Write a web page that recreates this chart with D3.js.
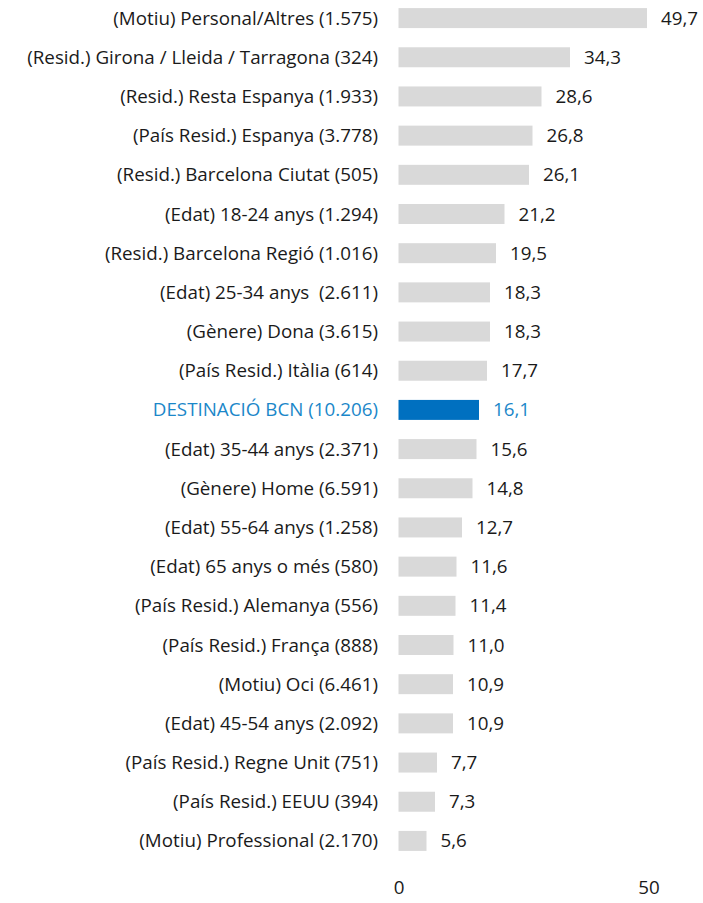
<!DOCTYPE html>
<html>
<head>
<meta charset="utf-8">
<script src="https://cdn.jsdelivr.net/npm/d3@7"></script>
<style>
  body { margin: 0; background: #fff; }
  text { font-family: "Open Sans", Lato, sans-serif; white-space: pre; }
</style>
</head>
<body>
<div id="chart"></div>
<script>
const categories = [
    "(Motiu) Personal/Altres (1.575)",
    "(Resid.) Girona / Lleida / Tarragona (324)",
    "(Resid.) Resta Espanya (1.933)",
    "(País Resid.) Espanya (3.778)",
    "(Resid.) Barcelona Ciutat (505)",
    "(Edat) 18-24 anys (1.294)",
    "(Resid.) Barcelona Regió (1.016)",
    "(Edat) 25-34 anys  (2.611)",
    "(Gènere) Dona (3.615)",
    "(País Resid.) Itàlia (614)",
    "DESTINACIÓ BCN (10.206)",
    "(Edat) 35-44 anys (2.371)",
    "(Gènere) Home (6.591)",
    "(Edat) 55-64 anys (1.258)",
    "(Edat) 65 anys o més (580)",
    "(País Resid.) Alemanya (556)",
    "(País Resid.) França (888)",
    "(Motiu) Oci (6.461)",
    "(Edat) 45-54 anys (2.092)",
    "(País Resid.) Regne Unit (751)",
    "(País Resid.) EEUU (394)",
    "(Motiu) Professional (2.170)"
];
const values = [49.7, 34.3, 28.6, 26.8, 26.1, 21.2, 19.5, 18.3, 18.3, 17.7, 16.1,
    15.6, 14.8, 12.7, 11.6, 11.4, 11.0, 10.9, 10.9, 7.7, 7.3, 5.6];
const highlight = "DESTINACIÓ BCN (10.206)";
const xTicks = [0, 50];

const width = 703;
const height = 903;
const fontSize = 18.8;

const svg = d3.select("#chart")
    .append("svg")
    .attr("width", width)
    .attr("height", height);

const xScale = d3.scaleLinear().domain([0, 50]).range([398.5, 648.5]);
const yScale = d3.scaleBand()
    .domain(categories)
    .range([-1.5, 860.5])
    .paddingInner(0.49)
    .paddingOuter(0.245);

const fmt = v => d3.format(".1f")(v).replace(".", ",");
const rows = categories.map((c, i) => ({ cat: c, value: values[i] }));

// bars
svg.selectAll("rect.bar")
    .data(rows)
    .enter()
    .append("rect")
    .attr("class", "bar")
    .attr("x", xScale(0))
    .attr("y", d => yScale(d.cat))
    .attr("width", d => xScale(d.value) - xScale(0))
    .attr("height", yScale.bandwidth())
    .attr("fill", d => d.cat === highlight ? "#0070C0" : "#D9D9D9");

// category labels
svg.selectAll("text.cat")
    .data(rows)
    .enter()
    .append("text")
    .attr("class", "cat")
    .attr("x", 378)
    .attr("y", d => yScale(d.cat) + yScale.bandwidth() / 2)
    .attr("dy", "0.35em")
    .attr("text-anchor", "end")
    .attr("font-size", fontSize)
    .attr("fill", d => d.cat === highlight ? "#1B87C9" : "#1a1a1a")
    .text(d => d.cat);

// value labels
svg.selectAll("text.val")
    .data(rows)
    .enter()
    .append("text")
    .attr("class", "val")
    .attr("x", d => xScale(d.value) + 14)
    .attr("y", d => yScale(d.cat) + yScale.bandwidth() / 2)
    .attr("dy", "0.35em")
    .attr("font-size", fontSize)
    .attr("fill", d => d.cat === highlight ? "#1B87C9" : "#1a1a1a")
    .text(d => fmt(d.value));

// x axis, labels only
const xAxis = svg.append("g")
    .attr("transform", "translate(0, 881)")
    .call(d3.axisBottom(xScale).tickValues(xTicks).tickSize(0).tickPadding(0));
xAxis.select(".domain").remove();
xAxis.selectAll("text")
    .attr("font-size", fontSize)
    .attr("font-family", "'Open Sans', sans-serif")
    .attr("fill", "#1a1a1a");
</script>
</body>
</html>
